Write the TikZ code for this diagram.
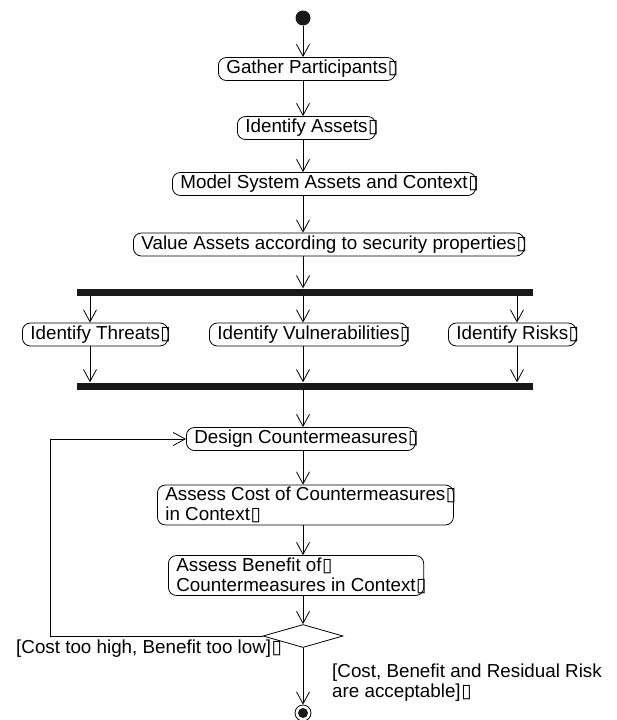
\documentclass[tikz,border=0pt]{standalone}
\usepackage{fontspec}
\setmainfont{Liberation Sans}
\newfontfamily\sqfont{DejaVu Sans}
\usetikzlibrary{arrows.meta,shapes.geometric}
\newcommand\sqmark{\rlap{\hspace{0.5pt}\sqfont ▯}}
\begin{document}
\begin{tikzpicture}[x=1pt, y=-1pt,
    act/.style={draw, line width=0.8pt, rounded corners=8pt, anchor=west, align=left,
      inner xsep=8pt, inner ysep=2pt, minimum height=23pt, font=\fontsize{18.8}{20}\selectfont},
    bar/.style={fill=black!90, minimum width=456pt, minimum height=7pt, inner sep=0pt},
    decision/.style={diamond, draw, line width=0.8pt, minimum width=80pt, minimum height=23pt, inner sep=0pt},
    startdot/.style={circle, fill=black!90, minimum size=15pt, inner sep=0pt},
    enddot/.style={circle, draw, line width=0.8pt, minimum size=16pt, inner sep=0pt,
      path picture={\fill[black!90] (path picture bounding box.center) circle (5pt);}},
    guard/.style={inner sep=0pt, align=left, font=\fontsize{18.8}{20}\selectfont},
    flow/.style={-{Straight Barb[length=12pt,width=13pt]}, line width=0.8pt}]
  \useasboundingbox (0,0) rectangle (616,720);
  \coordinate (axis) at (303,0);
  \coordinate (tx) at (90,0);
  \coordinate (rx) at (517,0);

  \node[startdot] (start) at (303,18) {};
  \node[act] (gather) at (218,69) {Gather Participants\sqmark};
  \node[act] (assets) at (237,128) {Identify Assets\sqmark};
  \node[act] (model) at (172,184) {Model System Assets and Context\sqmark};
  \node[act] (value) at (133,244.5) {Value Assets according to security properties\sqmark};
  \node[bar] (fork) at (305,292) {};
  \node[act] (threats) at (22,334.5) {Identify Threats\sqmark};
  \node[act] (vuln) at (209,334.5) {Identify Vulnerabilities\sqmark};
  \node[act] (risks) at (448,334.5) {Identify Risks\sqmark};
  \node[bar] (join) at (305,386) {};
  \node[act] (design) at (186,439) {Design Countermeasures\sqmark};
  \node[act] (cost) at (157,505) {Assess Cost of Countermeasures\sqmark\\in Context\sqmark};
  \node[act] (benefit) at (168,575.5) {Assess Benefit of\sqmark\\Countermeasures in Context\sqmark};
  \node[decision] (dec) at (303,636) {};
  \node[enddot] (stop) at (303,713) {};
  \node[guard, anchor=west] (toohigh) at (16,649) {[Cost too high, Benefit too low]\sqmark};
  \node[guard, anchor=north west] (accept) at (332,664)
    {[Cost, Benefit and Residual Risk\\are acceptable]\sqmark};

  % main flow
  \foreach \a/\b in {start/gather, gather/assets, assets/model, model/value, value/fork,
      fork/vuln, vuln/join, join/design, design/cost, cost/benefit, benefit/dec, dec/stop}
    \draw[flow] (axis |- \a.south) -- (axis |- \b.north);
  \foreach \c/\n in {tx/threats, rx/risks} {
    \draw[flow] (\c |- fork.south) -- (\c |- \n.north);
    \draw[flow] (\c |- \n.south) -- (\c |- join.north);
  }
  % loop back
  \coordinate (back) at (50,636);
  \draw[flow] (dec.west) -- (back) |- (design.west);
\end{tikzpicture}
\end{document}
